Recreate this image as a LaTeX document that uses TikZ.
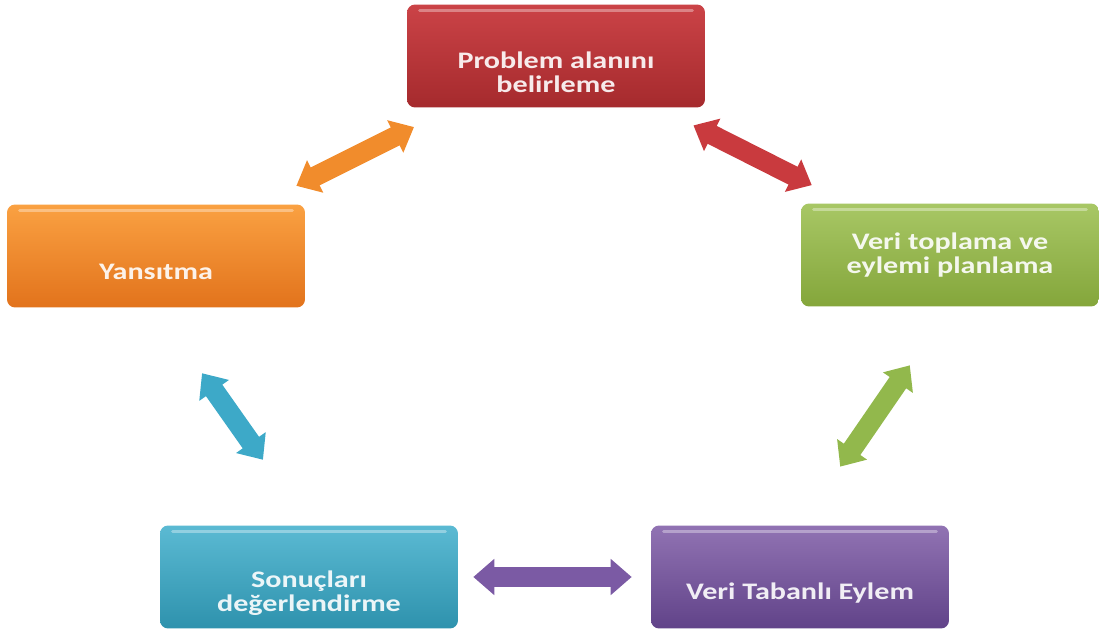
\documentclass[tikz,border=0pt]{standalone}
\usepackage{fontspec}
\setmainfont{Carlito}
\usepackage{tikz}
\usetikzlibrary{arrows.meta}

\definecolor{redtop}{HTML}{CB4347}
\definecolor{redbot}{HTML}{A52A2D}
\definecolor{orangetop}{HTML}{FAA142}
\definecolor{orangebot}{HTML}{E2731C}
\definecolor{greentop}{HTML}{A8C765}
\definecolor{greenbot}{HTML}{84A63B}
\definecolor{cyantop}{HTML}{5BBAD3}
\definecolor{cyanbot}{HTML}{2E92AD}
\definecolor{purpletop}{HTML}{9173B3}
\definecolor{purplebot}{HTML}{614389}
\definecolor{redarrow}{HTML}{C93A3E}
\definecolor{orangearrow}{HTML}{F18C2C}
\definecolor{greenarrow}{HTML}{92B84C}
\definecolor{cyanarrow}{HTML}{3DA9C8}
\definecolor{purplearrow}{HTML}{7B5AA4}

\tikzset{
    stagebox/.style 2 args={rounded corners=0.16cm, minimum width=5.96cm,
        minimum height=2.06cm, top color=#1, bottom color=#2,
        path picture={\draw[white, opacity=0.35, line width=1.5pt, line cap=round]
            ([xshift=0.25cm, yshift=-0.12cm]path picture bounding box.north west) --
            ([xshift=-0.25cm, yshift=-0.12cm]path picture bounding box.north east);}},
    stagetext/.style={text=white, text opacity=0.9, font=\fontsize{13.5}{13.6}\selectfont\bfseries,
        align=center, xscale=1.27, yshift=-0.32cm},
    dblarrow/.style={draw=#1, line width=0.4cm,
        {Triangle[length=0.42cm, width=0.7cm]}-{Triangle[length=0.42cm, width=0.7cm]}}
}

\begin{document}
\begin{tikzpicture}[x=0.02cm, y=-0.02cm]
    \useasboundingbox (0, 0) rectangle (1099, 634);

    % stages
    \node[stagebox={redtop}{redbot}, label={[stagetext]center:{Problem alanını\\belirleme}}] (problem) at (556, 56) {};
    \node[stagebox={orangetop}{orangebot}, label={[stagetext]center:Yansıtma}] (yansitma) at (156, 256) {};
    \node[stagebox={greentop}{greenbot}, label={[stagetext, yshift=0.32cm]center:{Veri toplama ve\\eylemi planlama}}] (veri) at (950, 255) {};
    \node[stagebox={cyantop}{cyanbot}, label={[stagetext]center:{Sonuçları\\değerlendirme}}] (sonuc) at (309, 577) {};
    \node[stagebox={purpletop}{purplebot}, label={[stagetext]center:Veri Tabanlı Eylem}] (eylem) at (800, 577) {};

    % two-way arrows
    \draw[dblarrow=orangearrow, shorten <=0.82cm, shorten >=0.86cm] (yansitma) -- (problem);
    \draw[dblarrow=redarrow, shorten <=0.78cm, shorten >=0.8cm] (problem) -- (veri);
    \draw[dblarrow=greenarrow, shorten <=1.42cm, shorten >=1.42cm] (veri.south) -- (eylem.north);
    \draw[dblarrow=purplearrow, shorten <=0.3cm, shorten >=0.38cm] (sonuc) -- (eylem);
    \draw[dblarrow=cyanarrow, shorten <=1.6cm, shorten >=1.6cm] (yansitma.south) -- (sonuc.north);
\end{tikzpicture}
\end{document}
